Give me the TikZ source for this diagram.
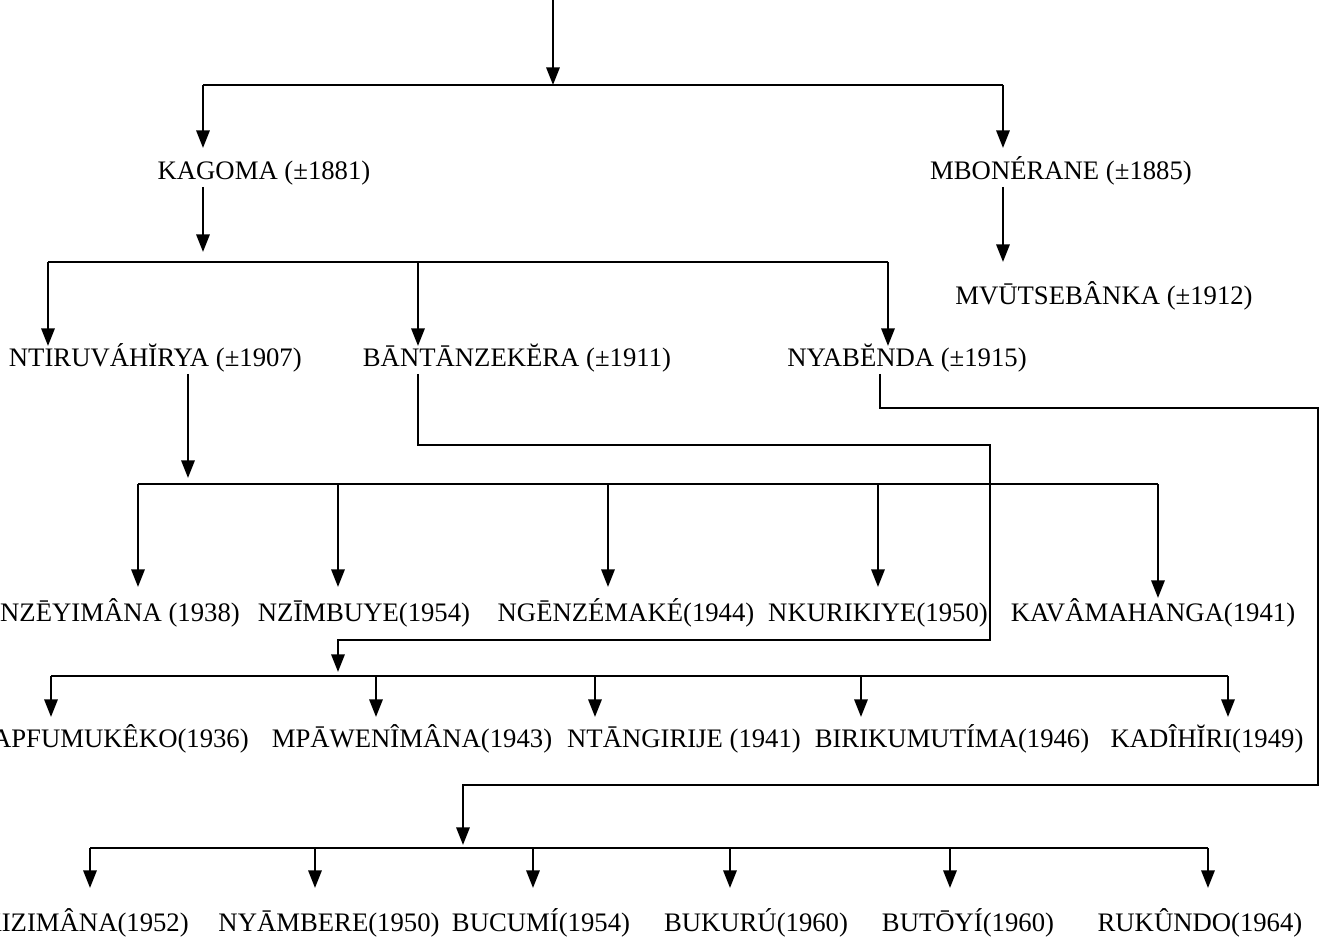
\documentclass[tikz,border=0pt]{standalone}
\usepackage{fontspec}
\setmainfont{Liberation Serif}
\usetikzlibrary{arrows.meta}
\tikzset{
	person/.style={font=\fontsize{15.2}{18}\selectfont, inner sep=0pt, anchor=base},
	cutname/.style={person, anchor=base east},
	arr/.style={-{Triangle[length=10pt,width=7.5pt]}}
}
\begin{document}
\begin{tikzpicture}[x=0.02cm,y=-0.02cm,line width=1.4pt]
	\useasboundingbox (0,0) rectangle (1323,939);
	\clip (0,0) rectangle (1323,939);
	% Ebene 1
	\coordinate (top) at (553,0);
	\coordinate (g1) at (553,85);
	\coordinate (g1l) at (203,85);
	\coordinate (g1r) at (1003,85);
	\coordinate (r1) at (0,148);
	\node[person] (kagoma) at (264,180) {KAGOMA (±1881)};
	\node[person] (mbonerane) at (1061,180) {MBONÉRANE (±1885)};
	\node[person] (mvutse) at (1104,305) {MVŪTSEBÂNKA (±1912)};
	\draw[arr] (top) -- (g1);
	\draw (g1l) -- (g1r);
	\draw[arr] (g1l) -- (g1l |- r1);
	\draw[arr] (g1r) -- (g1r |- r1);
	\coordinate (kg) at (203,252);
	\coordinate (g2l) at (48,262);
	\coordinate (g2m) at (418,262);
	\coordinate (g2r) at (888,262);
	\draw[arr] (g1l |- kagoma.south) -- (kg);
	\draw[arr] (g1r |- mbonerane.south) -- (g1r |- g2l);
	% Ebene 2
	\coordinate (r3) at (0,346);
	\node[cutname] (ntiru) at (303,367) {NTIRUVÁHĬRYA (±1907)};
	\node[person] (bantan) at (517,367) {BĀNTĀNZEKĔRA (±1911)};
	\node[person] (nyabenda) at (907,367) {NYABĔNDA (±1915)};
	\draw (g2l) -- (g2r);
	\draw[arr] (g2l) -- (g2l |- r3);
	\draw[arr] (g2m) -- (g2m |- r3);
	\draw[arr] (g2r) -- (g2r |- r3);
	% Kinder von NTIRUVAHIRYA
	\coordinate (nt) at (188,478);
	\coordinate (a1) at (138,484);
	\coordinate (a2) at (338,484);
	\coordinate (a3) at (608,484);
	\coordinate (a4) at (878,484);
	\coordinate (a5) at (1158,484);
	\coordinate (r4) at (0,587);
	\coordinate (r4b) at (0,598);
	\node[cutname] (nzeyi) at (241,621) {NZĒYIMÂNA (1938)};
	\node[person] (nzimbu) at (364,621) {NZĪMBUYE(1954)};
	\node[person] (ngenze) at (626,621) {NGĒNZÉMAKÉ(1944)};
	\node[person] (nkuri) at (878,621) {NKURIKIYE(1950)};
	\node[person] (kava) at (1153,621) {KAVÂMAHANGA(1941)};
	\draw[arr] (nt |- ntiru.south) -- (nt);
	\draw (a1) -- (a5);
	\draw[arr] (a1) -- (a1 |- r4);
	\draw[arr] (a2) -- (a2 |- r4);
	\draw[arr] (a3) -- (a3 |- r4);
	\draw[arr] (a4) -- (a4 |- r4);
	\draw[arr] (a5) -- (a5 |- r4b);
	% Kinder von BANTANZEKERA
	\coordinate (bt1) at (418,445);
	\coordinate (bt2) at (990,445);
	\coordinate (bt3) at (990,640);
	\coordinate (bt4) at (338,640);
	\coordinate (bt5) at (338,672);
	\coordinate (b1) at (51,676);
	\coordinate (b2) at (376,676);
	\coordinate (b3) at (595,676);
	\coordinate (b4) at (861,676);
	\coordinate (b5) at (1228,676);
	\coordinate (r5) at (0,717);
	\node[cutname] (apfu) at (250,747) {APFUMUKÊKO(1936)};
	\node[person] (mpawe) at (412,747) {MPĀWENÎMÂNA(1943)};
	\node[person] (ntangi) at (684,747) {NTĀNGIRIJE (1941)};
	\node[person] (biriku) at (952,747) {BIRIKUMUTÍMA(1946)};
	\node[person] (kadi) at (1207,747) {KADÎHĬRI(1949)};
	\draw[arr] (bt1 |- bantan.south) -- (bt1) -- (bt2) -- (bt3) -- (bt4) -- (bt5);
	\draw (b1) -- (b5);
	\draw[arr] (b1) -- (b1 |- r5);
	\draw[arr] (b2) -- (b2 |- r5);
	\draw[arr] (b3) -- (b3 |- r5);
	\draw[arr] (b4) -- (b4 |- r5);
	\draw[arr] (b5) -- (b5 |- r5);
	% Kinder von NYABENDA
	\coordinate (ny1) at (880,408);
	\coordinate (ny2) at (1318,408);
	\coordinate (ny3) at (1318,785);
	\coordinate (ny4) at (463,785);
	\coordinate (ny5) at (463,845);
	\coordinate (c1) at (90,848);
	\coordinate (c2) at (315,848);
	\coordinate (c3) at (533,848);
	\coordinate (c4) at (730,848);
	\coordinate (c5) at (950,848);
	\coordinate (c6) at (1208,848);
	\coordinate (r6) at (0,888);
	\node[cutname] (hakizi) at (190,931) {HAKIZIMÂNA(1952)};
	\node[person] (nyambe) at (329,931) {NYĀMBERE(1950)};
	\node[person] (bucumi) at (541,931) {BUCUMÍ(1954)};
	\node[person] (bukuru) at (756,931) {BUKURÚ(1960)};
	\node[person] (butoyi) at (968,931) {BUTŌYÍ(1960)};
	\node[person] (rukundo) at (1200,931) {RUKÛNDO(1964)};
	\draw[arr] (ny1 |- nyabenda.south) -- (ny1) -- (ny2) -- (ny3) -- (ny4) -- (ny5);
	\draw (c1) -- (c6);
	\draw[arr] (c1) -- (c1 |- r6);
	\draw[arr] (c2) -- (c2 |- r6);
	\draw[arr] (c3) -- (c3 |- r6);
	\draw[arr] (c4) -- (c4 |- r6);
	\draw[arr] (c5) -- (c5 |- r6);
	\draw[arr] (c6) -- (c6 |- r6);
\end{tikzpicture}
\end{document}
